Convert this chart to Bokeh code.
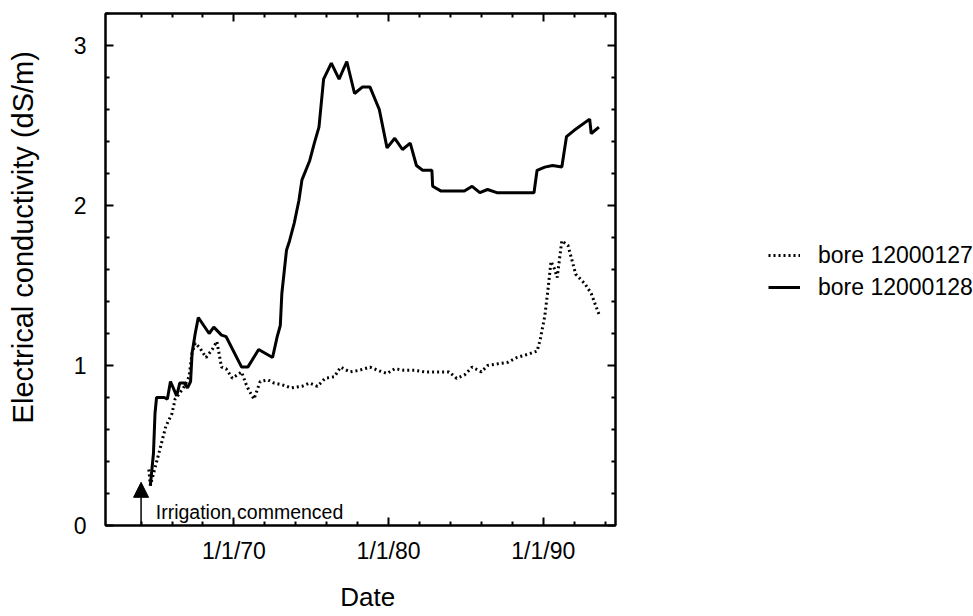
from bokeh.plotting import figure
from bokeh.layouts import row
from bokeh.models import (Range1d, FixedTicker, LinearAxis, Legend, LegendItem,
                          Arrow, NormalHead, Label)
from bokeh.embed import file_html
from bokeh.resources import INLINE

# ---- data (decimal years, EC in dS/m) ----
year_127 = [1964.5, 1964.6, 1965.2, 1965.6, 1966.0, 1966.2, 1966.3, 1966.8, 1967.1, 1967.3,
            1967.5, 1967.8, 1968.2, 1968.6, 1968.9, 1969.2, 1969.5, 1969.9, 1970.5, 1970.8,
            1971.0, 1971.3, 1971.7, 1972.2, 1972.6, 1973.1, 1973.7, 1974.4, 1974.9, 1975.4,
            1975.9, 1976.5, 1976.9, 1977.5, 1978.1, 1978.8, 1979.3, 1979.9, 1980.4, 1981.0,
            1981.7, 1982.3, 1983.2, 1983.9, 1984.4, 1984.9, 1985.4, 1986.0, 1986.4, 1987.0,
            1987.7, 1988.3, 1989.0, 1989.6, 1989.8, 1990.1, 1990.3, 1990.5, 1990.7, 1990.9,
            1991.2, 1991.6, 1992.1, 1992.7, 1993.1, 1993.6]
ec_127 = [0.35, 0.25, 0.47, 0.62, 0.70, 0.79, 0.80, 0.87, 0.93, 1.08,
          1.14, 1.11, 1.05, 1.10, 1.15, 0.99, 0.98, 0.92, 0.96, 0.88,
          0.84, 0.79, 0.90, 0.91, 0.89, 0.88, 0.86, 0.87, 0.89, 0.87,
          0.92, 0.93, 0.99, 0.96, 0.97, 0.99, 0.97, 0.95, 0.98, 0.97,
          0.97, 0.96, 0.96, 0.96, 0.92, 0.94, 0.99, 0.96, 1.00, 1.01,
          1.02, 1.05, 1.07, 1.09, 1.16, 1.31, 1.47, 1.65, 1.61, 1.55,
          1.78, 1.75, 1.57, 1.51, 1.45, 1.32]

year_128 = [1964.6, 1964.8, 1964.9, 1965.0, 1965.3, 1965.5, 1965.7, 1965.9, 1966.3, 1966.5,
            1966.8, 1967.0, 1967.2, 1967.3, 1967.5, 1967.7, 1968.4, 1968.7, 1969.2, 1969.5,
            1970.5, 1970.9, 1971.6, 1972.5, 1972.8, 1973.0, 1973.1, 1973.4, 1973.6, 1973.9,
            1974.2, 1974.4, 1974.9, 1975.2, 1975.5, 1975.8, 1976.3, 1976.8, 1977.3, 1977.8,
            1978.3, 1978.8, 1979.4, 1979.9, 1980.4, 1980.9, 1981.4, 1981.8, 1982.2, 1982.8,
            1982.85, 1983.4, 1984.9, 1985.4, 1985.9, 1986.4, 1987.0, 1989.4, 1989.6, 1990.1,
            1990.6, 1991.2, 1991.5, 1992.0, 1993.0, 1993.1, 1993.6]
ec_128 = [0.25, 0.45, 0.70, 0.80, 0.80, 0.80, 0.79, 0.90, 0.81, 0.89,
          0.89, 0.86, 0.90, 1.08, 1.20, 1.30, 1.20, 1.24, 1.19, 1.18,
          0.99, 0.99, 1.10, 1.05, 1.18, 1.25, 1.45, 1.72, 1.78, 1.89,
          2.03, 2.16, 2.28, 2.39, 2.49, 2.79, 2.89, 2.79, 2.90, 2.70,
          2.74, 2.74, 2.60, 2.36, 2.42, 2.35, 2.39, 2.25, 2.22, 2.22,
          2.12, 2.09, 2.09, 2.12, 2.08, 2.10, 2.08, 2.08, 2.22, 2.24,
          2.25, 2.24, 2.43, 2.47, 2.54, 2.45, 2.49]

x_major = [1970, 1980, 1990]
x_labels = ["1/1/70", "1/1/80", "1/1/90"]
x_minor = [1964, 1966, 1968, 1972, 1974, 1976, 1978, 1982, 1984, 1986, 1988, 1992, 1994]
y_major = [0, 1, 2, 3]
y_minor = [0.2, 0.4, 0.6, 0.8, 1.2, 1.4, 1.6, 1.8, 2.2, 2.4, 2.6, 2.8, 3.2]
series_names = ["bore 12000127", "bore 12000128"]
irrigation_year = 1964
irrigation_text = "Irrigation commenced"

FONT = "Liberation Sans"

p = figure(width=618, height=616, output_backend="svg", toolbar_location=None,
           x_range=Range1d(1961.7, 1994.67), y_range=Range1d(0, 3.2),
           min_border_left=105, min_border_right=3, min_border_top=13, min_border_bottom=91)
p.grid.visible = False
p.outline_line_color = "black"
p.outline_line_width = 2
p.background_fill_color = "white"
p.border_fill_color = "white"

def style_axis(ax, labels=True):
    ax.axis_line_color = "black"
    ax.axis_line_width = 2
    ax.major_tick_in = 8
    ax.major_tick_out = 0
    ax.minor_tick_in = 4
    ax.minor_tick_out = 0
    ax.major_tick_line_width = 2
    ax.minor_tick_line_width = 2
    ax.major_tick_line_color = "black"
    ax.minor_tick_line_color = "black"
    ax.major_label_text_font = FONT
    ax.major_label_text_color = "black"
    ax.axis_label_text_font = FONT
    ax.axis_label_text_font_style = "normal"
    ax.axis_label_text_color = "black"
    if not labels:
        ax.major_label_text_color = None
        ax.major_label_text_font_size = "1px"
        ax.major_label_standoff = 0

xa = p.xaxis[0]
xa.ticker = FixedTicker(ticks=x_major, minor_ticks=x_minor)
style_axis(xa)
xa.major_label_overrides = {v: s for v, s in zip(x_major, x_labels)}
xa.major_label_text_font_size = "23px"
xa.major_label_standoff = 12
xa.axis_label = "\u00a0\u00a0Date"
xa.axis_label_text_font_size = "26px"
xa.axis_label_standoff = 15

ya = p.yaxis[0]
ya.ticker = FixedTicker(ticks=y_major, minor_ticks=y_minor)
style_axis(ya)
ya.major_label_text_font_size = "23px"
ya.major_label_standoff = 19
ya.axis_label = "\u00a0" * 8 + "Electrical conductivity (dS/m)"
ya.axis_label_text_font_size = "29px"
ya.axis_label_standoff = 32

top = LinearAxis(ticker=FixedTicker(ticks=x_major, minor_ticks=x_minor))
style_axis(top, labels=False)
p.add_layout(top, "above")
right = LinearAxis(ticker=FixedTicker(ticks=y_major, minor_ticks=y_minor))
style_axis(right, labels=False)
p.add_layout(right, "right")

STYLE_127 = dict(line_color="black", line_width=3, line_dash="2 3")
STYLE_128 = dict(line_color="black", line_width=3)
r1 = p.line(year_127, ec_127, **STYLE_127)
r2 = p.line(year_128, ec_128, **STYLE_128)

arrow = Arrow(end=NormalHead(size=15, fill_color="black", line_color="black"),
              x_start=irrigation_year, y_start=0, x_end=irrigation_year, y_end=0.27,
              line_color="black", line_width=1.5)
p.add_layout(arrow)
p.add_layout(Label(x=irrigation_year + 0.95, y=0.085, text=irrigation_text,
                   text_font=FONT, text_font_size="19.5px", text_color="black",
                   text_baseline="alphabetic"))

# side panel holding the legend (outside the plot frame); its ranges keep the
# proxy copies of the series out of view, so only the legend entries show
q = figure(width=355, height=616, output_backend="svg", toolbar_location=None,
           x_axis_type=None, y_axis_type=None, min_border=0,
           x_range=Range1d(0, 1), y_range=Range1d(0, 1))
q.grid.visible = False
q.outline_line_color = None
q.border_fill_color = "white"
q.background_fill_color = "white"
l1 = q.line(year_127, ec_127, **STYLE_127)
l2 = q.line(year_128, ec_128, **STYLE_128)
legend = Legend(items=[LegendItem(label=series_names[0], renderers=[l1]),
                       LegendItem(label=series_names[1], renderers=[l2])],
                location=(150, 224), padding=0, margin=0, spacing=4,
                glyph_width=32, glyph_height=28, label_height=28, label_standoff=18,
                label_text_font=FONT, label_text_font_size="23px", label_text_color="black",
                border_line_alpha=0, background_fill_alpha=0)
q.add_layout(legend)

layout = row(p, q)
open("out.html", "w").write(file_html(layout, INLINE))
